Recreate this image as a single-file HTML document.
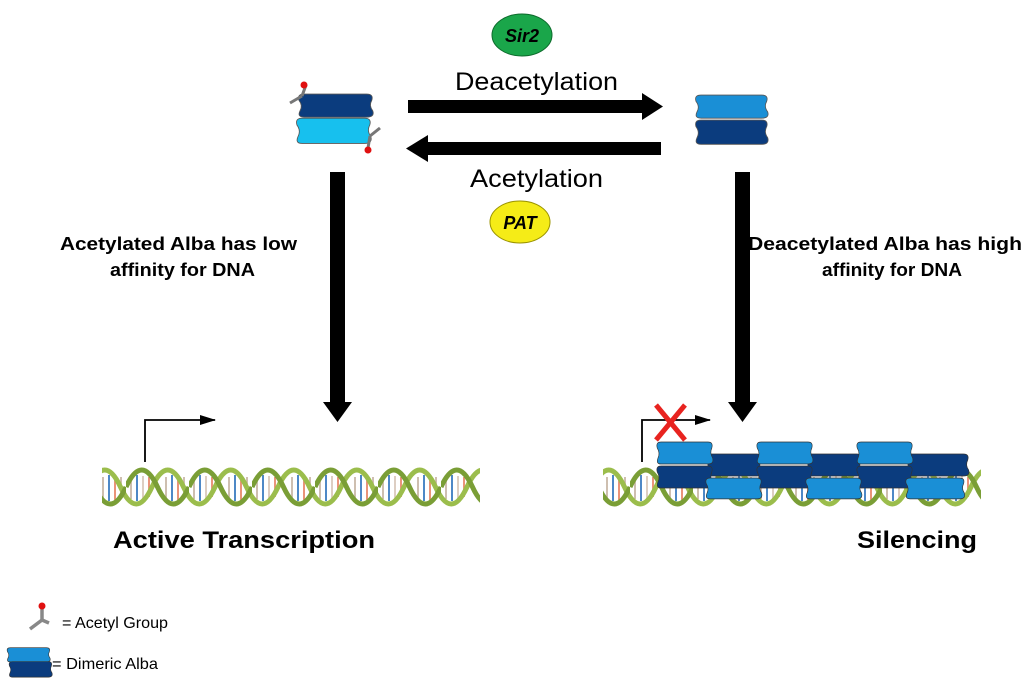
<!DOCTYPE html>
<html><head><style>
body{margin:0;background:#fff;}
svg{display:block;font-family:"Liberation Sans",Arial,sans-serif;}
</style></head><body>
<svg width="1024" height="687" viewBox="0 0 1024 687" xmlns="http://www.w3.org/2000/svg">
<defs>
<path id="blk" d="M4,1 H64 Q71,1 69,7 Q66,12 70,17 Q72,23 64,23 H4 Q-3,23 0,17 Q3,12 -1,7 Q-3,1 4,1 Z"/>
<pattern id="dna" x="0" y="467" width="63" height="40" patternUnits="userSpaceOnUse">
<g stroke-width="1.8">
<line x1="5" y1="10" x2="5" y2="32" stroke="#c9b8a8"/>
<line x1="11" y1="8" x2="11" y2="34" stroke="#3a7bbf"/>
<line x1="17" y1="9" x2="17" y2="33" stroke="#d9c9bb"/>
<line x1="23" y1="10" x2="23" y2="30" stroke="#e8876a"/>
<line x1="40" y1="10" x2="40" y2="32" stroke="#c9b8a8"/>
<line x1="46" y1="8" x2="46" y2="34" stroke="#3a7bbf"/>
<line x1="52" y1="9" x2="52" y2="33" stroke="#e8876a"/>
<line x1="58" y1="10" x2="58" y2="30" stroke="#c9b8a8"/>
</g>
<path d="M-68.5,20 Q-52.75,54 -37,20 T-5.5,20 T26,20 T57.5,20 T89,20" fill="none" stroke="#9bbd4c" stroke-width="5"/>
<path d="M0,20 Q15.75,-14 31.5,20 T63,20" fill="none" stroke="#7a9e36" stroke-width="5"/>
</pattern>
<marker id="ah" markerWidth="16" markerHeight="10" refX="15" refY="5" orient="auto" markerUnits="userSpaceOnUse"><path d="M0,0 L16,5 L0,10Z" fill="#000"/></marker>
</defs>

<ellipse cx="522" cy="35" rx="30" ry="21" fill="#1aa64a" stroke="#0d6b2c" stroke-width="1"/>
<text x="522" y="42" font-size="18" font-weight="bold" font-style="italic" text-anchor="middle">Sir2</text>
<ellipse cx="520" cy="222" rx="30" ry="21" fill="#f5ec17" stroke="#9a9300" stroke-width="1"/>
<text x="520" y="229" font-size="18" font-weight="bold" font-style="italic" text-anchor="middle">PAT</text>

<text x="455" y="90" font-size="25" textLength="163" lengthAdjust="spacingAndGlyphs">Deacetylation</text>
<text x="470" y="187" font-size="25" textLength="133" lengthAdjust="spacingAndGlyphs">Acetylation</text>

<rect x="408" y="100" width="237" height="13" fill="#000"/>
<path d="M642,93 L663,106.5 L642,120Z" fill="#000"/>
<rect x="425" y="142" width="236" height="13" fill="#000"/>
<path d="M428,135 L406,148.5 L428,162Z" fill="#000"/>

<rect x="330" y="172" width="15" height="232" fill="#000"/>
<path d="M323,402 L352,402 L337.5,422Z" fill="#000"/>
<rect x="735" y="172" width="15" height="232" fill="#000"/>
<path d="M728,402 L757,402 L742.5,422Z" fill="#000"/>

<use href="#blk" transform="translate(300,93) scale(1.04,1.05)" fill="#0b3c7e" stroke="#555" stroke-width="0.8"/>
<use href="#blk" transform="translate(298,117) scale(1.04,1.15)" fill="#17c0ee" stroke="#555" stroke-width="0.8"/>
<g stroke="#777" stroke-width="3"><line x1="302" y1="96" x2="290" y2="103"/><line x1="302" y1="96" x2="306" y2="85"/>
<line x1="370" y1="136" x2="380" y2="128"/><line x1="370" y1="136" x2="368" y2="148"/></g>
<circle cx="304" cy="85" r="3.5" fill="#e01010"/><circle cx="368" cy="150" r="3.5" fill="#e01010"/>

<use href="#blk" transform="translate(697,94) scale(1.01,1.05)" fill="#1a8fd6" stroke="#555" stroke-width="0.8"/>
<use href="#blk" transform="translate(697,119) scale(1.01,1.1)" fill="#0b3c7e" stroke="#555" stroke-width="0.8"/>

<text x="60" y="250" font-size="18" font-weight="bold" textLength="237" lengthAdjust="spacingAndGlyphs">Acetylated Alba has low</text>
<text x="110" y="276" font-size="18" font-weight="bold" textLength="145" lengthAdjust="spacingAndGlyphs">affinity for DNA</text>
<text x="748" y="250" font-size="18" font-weight="bold" textLength="274" lengthAdjust="spacingAndGlyphs">Deacetylated Alba has high</text>
<text x="822" y="276" font-size="18" font-weight="bold" textLength="140" lengthAdjust="spacingAndGlyphs">affinity for DNA</text>

<rect x="102" y="467" width="378" height="40" fill="url(#dna)"/>
<rect x="603" y="467" width="378" height="40" fill="url(#dna)"/>

<path d="M145,462 V420 H215" fill="none" stroke="#000" stroke-width="1.8" marker-end="url(#ah)"/>
<path d="M642,462 V420 H710" fill="none" stroke="#000" stroke-width="1.8" marker-end="url(#ah)"/>

<g stroke="#333" stroke-width="0.8">
<use href="#blk" transform="translate(707,453) scale(0.78,1)" fill="#0b3c7e"/>
<use href="#blk" transform="translate(807,453) scale(0.78,1)" fill="#0b3c7e"/>
<use href="#blk" transform="translate(907,453) scale(0.88,1)" fill="#0b3c7e"/>
<use href="#blk" transform="translate(658,441) scale(0.78,1)" fill="#1a8fd6"/>
<use href="#blk" transform="translate(758,441) scale(0.78,1)" fill="#1a8fd6"/>
<use href="#blk" transform="translate(858,441) scale(0.78,1)" fill="#1a8fd6"/>
<use href="#blk" transform="translate(658,465) scale(0.78,1)" fill="#0b3c7e"/>
<use href="#blk" transform="translate(758,465) scale(0.78,1)" fill="#0b3c7e"/>
<use href="#blk" transform="translate(858,465) scale(0.78,1)" fill="#0b3c7e"/>
<use href="#blk" transform="translate(707,477) scale(0.78,0.95)" fill="#1a8fd6"/>
<use href="#blk" transform="translate(807,477) scale(0.78,0.95)" fill="#1a8fd6"/>
<use href="#blk" transform="translate(907,477) scale(0.82,0.95)" fill="#1a8fd6"/>
</g>
<g stroke="#e8231f" stroke-width="5"><line x1="656" y1="405" x2="685" y2="440"/><line x1="685" y1="405" x2="656" y2="440"/></g>

<text x="113" y="548" font-size="24" font-weight="bold" textLength="262" lengthAdjust="spacingAndGlyphs">Active Transcription</text>
<text x="857" y="548" font-size="24" font-weight="bold" textLength="120" lengthAdjust="spacingAndGlyphs">Silencing</text>

<g stroke="#888" stroke-width="3.5"><line x1="42" y1="620" x2="30" y2="629"/><line x1="42" y1="620" x2="49" y2="623"/><line x1="42" y1="620" x2="42" y2="608"/></g>
<circle cx="42" cy="606" r="3.5" fill="#e01010"/>
<text x="62" y="628" font-size="16" textLength="106" lengthAdjust="spacingAndGlyphs">= Acetyl Group</text>
<use href="#blk" transform="translate(8,647) scale(0.6,0.65)" fill="#1a8fd6" stroke="#333" stroke-width="1"/>
<use href="#blk" transform="translate(10,661) scale(0.6,0.7)" fill="#0b3c7e" stroke="#333" stroke-width="1"/>
<text x="52" y="669" font-size="16" textLength="106" lengthAdjust="spacingAndGlyphs">= Dimeric Alba</text>
</svg>
</body></html>
